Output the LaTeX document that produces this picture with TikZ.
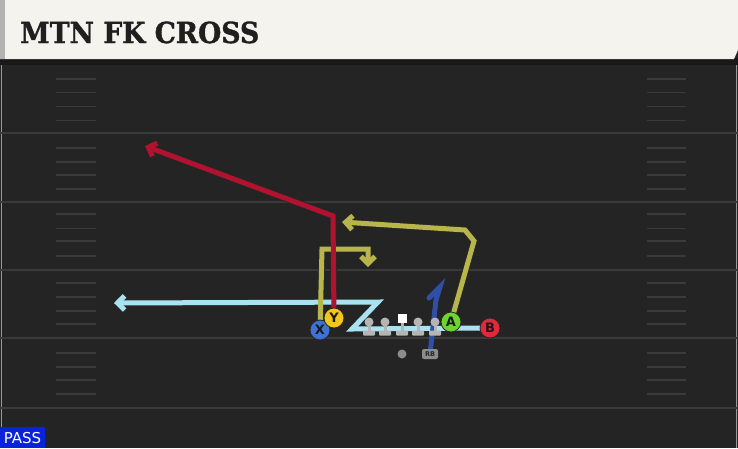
\documentclass[tikz,border=0pt]{standalone}
\usepackage{graphicx}
\usepackage{fontspec}
\setmainfont{DejaVu Sans}
\newfontfamily\titlefont{DejaVu Serif}[BoldFeatures={FakeBold=1.2}]
\usetikzlibrary{arrows.meta}
\definecolor{fieldbg}{HTML}{242424}
\definecolor{fieldline}{HTML}{3A3A3A}
\definecolor{cream}{HTML}{F5F3EE}
\definecolor{rred}{HTML}{B0122F}
\definecolor{ryel}{HTML}{B8B54C}
\definecolor{rcyan}{HTML}{A9E3F2}
\definecolor{rblue}{HTML}{2F4FA6}
\definecolor{pX}{HTML}{3E72D6}
\definecolor{pY}{HTML}{F2C61A}
\definecolor{pA}{HTML}{6CD62E}
\definecolor{pB}{HTML}{E02A3C}
\definecolor{olgrey}{HTML}{B5B5B5}
\definecolor{passblue}{HTML}{0A22DC}
\tikzset{
  yardline/.style={draw=fieldline, line width=2pt},
  hashline/.style={draw=fieldline, line width=1.5pt},
  routeout/.style={draw=black!85, line width=7pt, line join=miter},
  routein/.style={line width=5pt, line join=miter},
  tipout/.style={-{Straight Barb[length=8pt,width=16pt,line width=7pt]}},
  tipin/.style={-{Straight Barb[length=7pt,width=14pt,line width=5pt]}},
  player/.style={circle, draw=black!85, line width=0.8pt, minimum size=20pt, inner sep=0pt, font=\bfseries\fontsize{13}{13}\selectfont, text=black!90},
  olcircle/.style={circle, fill=olgrey, minimum size=9pt, inner sep=0pt},
  olbase/.style={fill=olgrey, rounded corners=0.8pt},
}
\begin{document}
\begin{tikzpicture}[x=1pt,y=-1pt]
\useasboundingbox (0,0) rectangle (738,448);
% background
\fill[fieldbg] (0,0) rectangle (738,448);
\fill[black!90] (0,58) rectangle (738,65);
% banner
\fill[cream] (0,0) -- (738,0) -- (738,50) -- (734,59) -- (0,59) -- cycle;
\fill[black!30] (0,0) rectangle (5,59);
\node[anchor=base west, inner sep=0pt, text=black!88] (title) at (20,43)
  {\scalebox{0.92}[1]{\titlefont\bfseries\fontsize{29}{29}\selectfont MTN FK CROSS}};
% edges
\draw[black!40, line width=1pt] (1.5,65) -- (1.5,448);
\draw[black!40, line width=1pt] (736.5,65) -- (736.5,448);
% yard lines
\foreach \y in {133,201.5,270,338,408} {
  \draw[yardline] (0,\y) -- (738,\y);
}
% hashes
\foreach \y in {79,92.5,106.5,120.5,148,162,175,189,214,228.5,241,256,283,297,311,324,353,367,380,394} {
  \draw[hashline] (56,\y) -- (96,\y);
  \draw[hashline] (647,\y) -- (686,\y);
}
% player coordinates
\coordinate (X) at (320,330);
\coordinate (Y) at (334,318);
\coordinate (A) at (451,322);
\coordinate (B) at (490,328);
\coordinate (RB) at (430,354);
\coordinate (QB) at (402,354);
% route points
\coordinate (r1) at (333,216);
\coordinate (r2) at (145,146);
\coordinate (x1) at (322,249);
\coordinate (x2) at (368,249);
\coordinate (x3) at (368,267);
\coordinate (a1) at (474,241);
\coordinate (a2) at (465,230);
\coordinate (a3) at (342,222);
\coordinate (b1) at (352,329);
\coordinate (b2) at (378,302);
\coordinate (b3) at (114,303);
\coordinate (rb1) at (436,300);
\coordinate (rb2) at (440,287);
\coordinate (rb3) at (429,298);
% outlines
\draw[routeout, tipout] (B) -- (b1) -- (b2) -- (b3);
\draw[routeout, tipout] (A) -- (a1) -- (a2) -- (a3);
\draw[routeout, tipout] (X) -- (x1) -- (x2) -- (x3);
\draw[routeout, tipout] (Y) -- (r1) -- (r2);
% colored routes
\draw[routein, rcyan, tipin] (B) -- (b1) -- (b2) -- (b3);
\draw[routein, ryel, tipin] (A) -- (a1) -- (a2) -- (a3);
\draw[routein, ryel, tipin] (X) -- (x1) -- (x2) -- (x3);
\draw[routein, rred, tipin] (Y) -- (r1) -- (r2);
\draw[rblue, line width=5pt, line join=miter, line cap=round] (RB) -- (rb1) -- (rb2) -- (rb3);
% offensive line
\foreach \x/\n in {369/ol1,385/ol2,418/ol4,435/ol5} {
  \fill[olgrey] (\x-1.5,322) rectangle (\x+1.5,332);
  \fill[olbase] (\x-6,330.5) rectangle (\x+6,335.5);
  \node[olcircle] (\n) at (\x,322) {};
}
\fill[olgrey] (400.5,320) rectangle (403.5,332);
\fill[olbase] (396,330.5) rectangle (408,335.5);
\node[fill=white, minimum size=9pt, inner sep=0pt] (ctr) at (402,318.5) {};
% QB and RB
\node[circle, fill=black!45, minimum size=9pt, inner sep=0pt] (qb) at (QB) {};
\node[fill=black!45, rounded corners=2pt, minimum width=16pt, minimum height=10pt, inner sep=0pt, font=\bfseries\fontsize{6.5}{6.5}\selectfont, text=black!85] (rb) at (RB) {RB};
% skill players
\node[player, fill=pX] (px) at (X) {X};
\node[player, fill=pY] (py) at (Y) {Y};
\node[player, fill=pA] (pa) at (A) {A};
\node[player, fill=pB] (pb) at (B) {B};
% pass label
\fill[passblue] (0,427) rectangle (45,448);
\node[anchor=center, text=white, font=\fontsize{15}{15}\selectfont, inner sep=0pt] (pass) at (22.5,438.5) {PASS};
\end{tikzpicture}
\end{document}
